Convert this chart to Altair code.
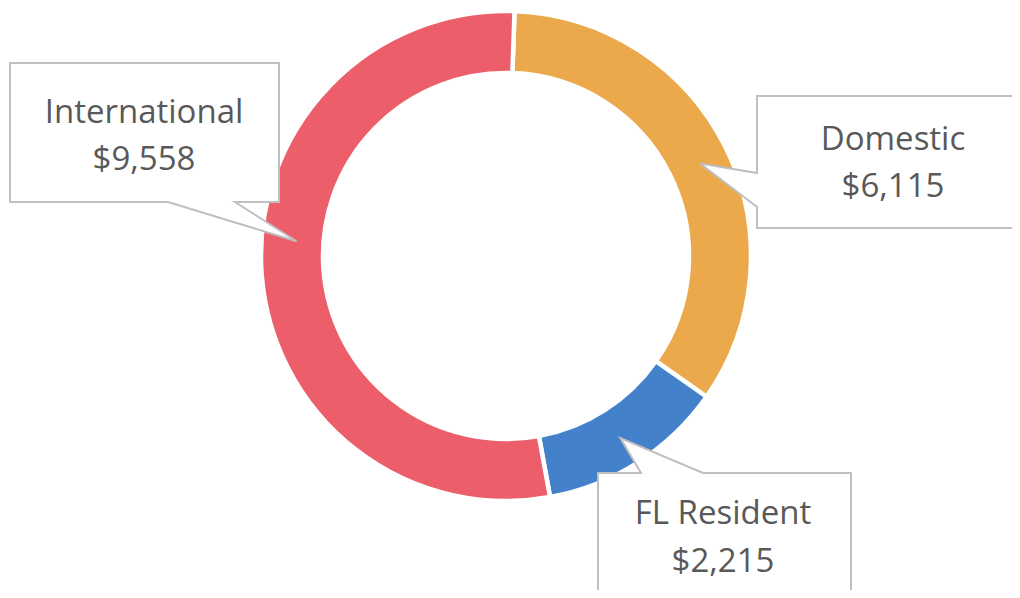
import math
import altair as alt
import pandas as pd

# ---- data ----
categories = ["Domestic", "FL Resident", "International"]
values = [6115, 2215, 9558]
colors = ["#EBA94B", "#4382CB", "#EC5F6A"]

# ---- layout (chart pixel space; chart origin = page (8,8)) ----
W, H = 1004, 582
CX, CY = 498, 248
R_OUT, R_IN = 245, 183
STROKE = 4.5
ROT_DEG = 2.0
tip_angle_offset = {"Domestic": 1, "FL Resident": 0.5, "International": 8.2}
tip_radius = {"Domestic": 215, "FL Resident": 215, "International": 210}
boxes = {
    "International": dict(box=(2, 55, 271, 194), side="bottom", base=(160, 227)),
    "Domestic": dict(box=(749, 88, 1030, 220), side="left", base=(165, 199)),
    "FL Resident": dict(box=(590, 465, 843, 620), side="top", base=(633, 695)),
}
text_pos = {
    "International": (136, 115, 162),
    "Domestic": (885, 142, 189),
    "FL Resident": (715, 516, 564),
}
FONT = "Open Sans"
FSIZE = 33
TCOLOR = "#595959"
BORDER = "#BFBFBF"

df = pd.DataFrame({"category": categories, "value": values,
                   "order": list(range(len(categories)))})

total = sum(values)
cum = 0
tips = {}
for c, v in zip(categories, values):
    mid = ROT_DEG + (cum + v / 2) / total * 360 + tip_angle_offset[c]
    cum += v
    a = math.radians(mid)
    tips[c] = (CX + tip_radius[c] * math.sin(a), CY - tip_radius[c] * math.cos(a))


def callout(c):
    x0, y0, x1, y1 = boxes[c]["box"]
    b0, b1 = boxes[c]["base"]
    tx, ty = tips[c]
    side = boxes[c]["side"]
    if side == "bottom":
        pts = [(x0, y0), (x1, y0), (x1, y1), (b1, y1), (tx, ty), (b0, y1), (x0, y1)]
    elif side == "left":
        pts = [(x0, y0), (x1, y0), (x1, y1), (x0, y1), (x0, b1), (tx, ty), (x0, b0)]
    else:  # top
        pts = [(x0, y0), (b0, y0), (tx, ty), (b1, y0), (x1, y0), (x1, y1), (x0, y1)]
    pts = [list(p) for p in pts] + [list(pts[0])]
    return {"type": "Feature", "properties": {"name": c},
            "geometry": {"type": "Polygon", "coordinates": [pts]}}


features = [callout(c) for c in categories]

rot = math.radians(ROT_DEG)
donut = alt.Chart(df).mark_arc(
    innerRadius=R_IN, outerRadius=R_OUT, stroke="white", strokeWidth=STROKE
).encode(
    theta=alt.Theta("value:Q", stack=True, scale=alt.Scale(range=[rot, rot + 2 * math.pi])),
    order=alt.Order("order:Q"),
    color=alt.Color("category:N", scale=alt.Scale(domain=categories, range=colors), legend=None),
    x=alt.value(CX),
    y=alt.value(CY),
)

shapes = alt.Chart(alt.Data(values=features)).mark_geoshape(
    fill="white", stroke=BORDER, strokeWidth=2, strokeJoin="miter"
).encode(
    fill=alt.value("white")
).project(type="identity", scale=1, translate=[0, 0])

tdf = pd.DataFrame({
    "name": categories,
    "val": ["$" + format(v, ",") for v in values],
    "tx": [text_pos[c][0] for c in categories],
    "ty1": [text_pos[c][1] for c in categories],
    "ty2": [text_pos[c][2] for c in categories],
})

xs = alt.Scale(domain=[0, W], range=[0, W])
ys = alt.Scale(domain=[0, H], range=[0, H])

t1 = alt.Chart(tdf).mark_text(font=FONT, fontSize=FSIZE, color=TCOLOR,
                              align="center", baseline="alphabetic").encode(
    x=alt.X("tx:Q", scale=xs, axis=None),
    y=alt.Y("ty1:Q", scale=ys, axis=None),
    text="name:N",
)
t2 = alt.Chart(tdf).mark_text(font=FONT, fontSize=FSIZE, color=TCOLOR,
                              align="center", baseline="alphabetic").encode(
    x=alt.X("tx:Q", scale=xs, axis=None),
    y=alt.Y("ty2:Q", scale=ys, axis=None),
    text="val:N",
)

chart = alt.layer(donut, shapes, t1, t2).properties(
    width=W, height=H, padding=0,
    autosize=alt.AutoSizeParams(type="none"),
).configure_view(stroke=None)

chart.save("out.html", embed_options={"renderer": "svg", "actions": False})
